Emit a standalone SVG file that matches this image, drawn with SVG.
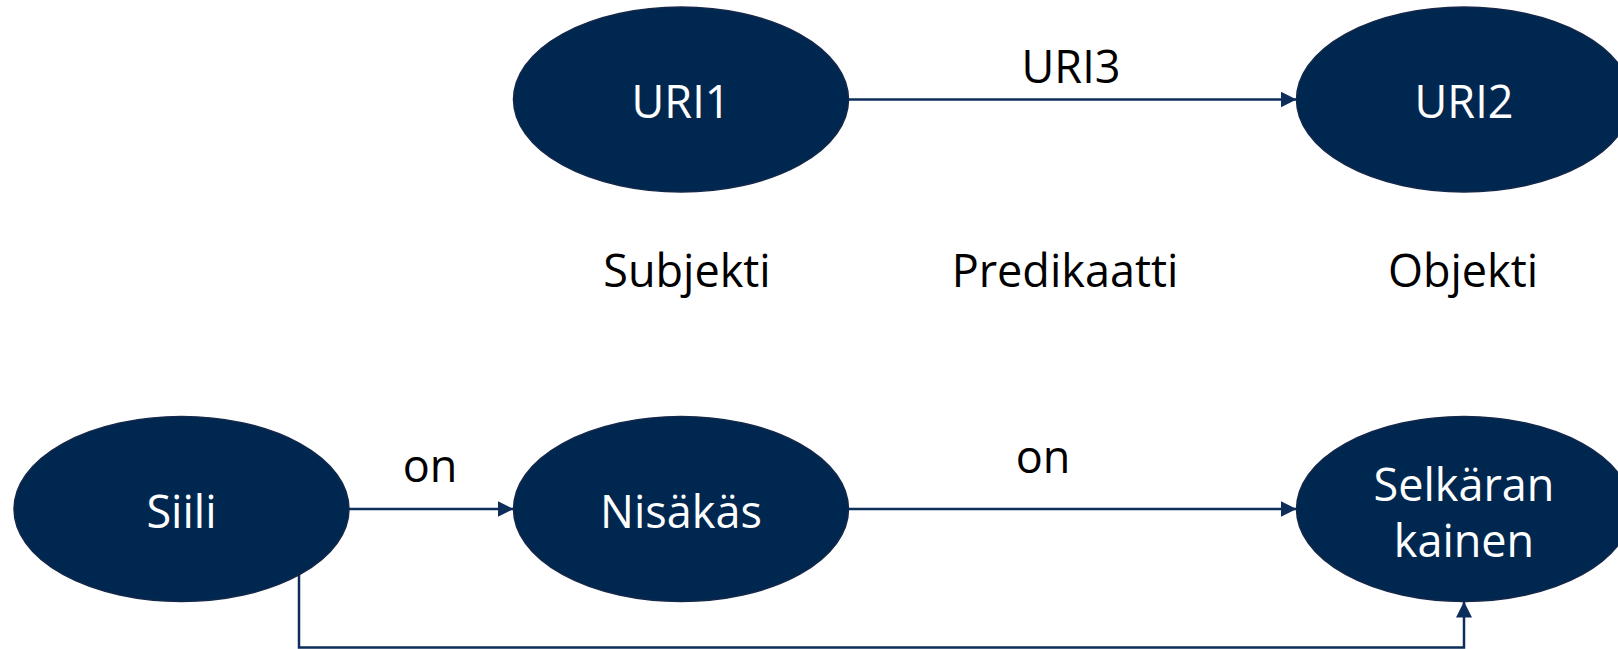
<svg xmlns="http://www.w3.org/2000/svg" width="1618" height="649" viewBox="0 0 1618 649">
<style>
.node{fill:#00274f;stroke:#14284a;stroke-width:1.5}
.nt{font-family:"Open Sans","Noto Sans",sans-serif;font-size:45px;fill:#ffffff;text-anchor:middle}
.lt{font-family:"Open Sans","Noto Sans",sans-serif;font-size:45px;fill:#000000;text-anchor:middle}
.edge{fill:none;stroke:#0d2d5a;stroke-width:2.5}
</style>
<defs>
<marker id="arr" markerUnits="userSpaceOnUse" markerWidth="16" markerHeight="16" refX="16" refY="8" orient="auto">
<path d="M0,0 L16,8 L0,16 Z" fill="#0d2d5a"/>
</marker>
</defs>
<rect width="1618" height="649" fill="#ffffff"/>
<g id="connectors">
<line class="edge" x1="848.5" y1="99.5" x2="1296.5" y2="99.5" marker-end="url(#arr)"/>
<line class="edge" x1="349" y1="509" x2="513.5" y2="509" marker-end="url(#arr)"/>
<line class="edge" x1="848.5" y1="509" x2="1296.5" y2="509" marker-end="url(#arr)"/>
<path class="edge" d="M299,575 V647.5 H1464 V601.5" marker-end="url(#arr)"/>
<text class="lt" x="1071" y="83">URI3</text>
<text class="lt" x="430" y="482">on</text>
<text class="lt" x="1043" y="473">on</text>
</g>
<g id="uri1"><ellipse class="node" cx="681" cy="99.5" rx="167.5" ry="92.5"/><text class="nt" x="681" y="118">URI1</text></g>
<g id="uri2"><ellipse class="node" cx="1464" cy="99.5" rx="167.5" ry="92.5"/><text class="nt" x="1464" y="118">URI2</text></g>
<g id="subjekti"><text class="lt" x="687" y="287">Subjekti</text></g>
<g id="predikaatti"><text class="lt" x="1065" y="287">Predikaatti</text></g>
<g id="objekti"><text class="lt" x="1463" y="287">Objekti</text></g>
<g id="siili"><ellipse class="node" cx="181.5" cy="509" rx="167.5" ry="92.5"/><text class="nt" x="181.5" y="528">Siili</text></g>
<g id="nisakas"><ellipse class="node" cx="681" cy="509" rx="167.5" ry="92.5"/><text class="nt" x="681" y="528">Nisäkäs</text></g>
<g id="selkaranka"><ellipse class="node" cx="1464" cy="509" rx="167.5" ry="92.5"/><text class="nt" x="1464" y="501">Selkäran</text><text class="nt" x="1464" y="557">kainen</text></g>
</svg>
